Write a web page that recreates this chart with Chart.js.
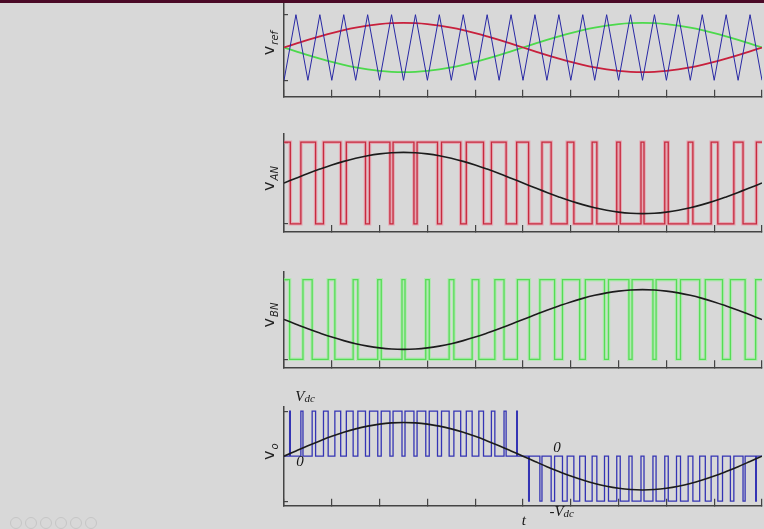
<!DOCTYPE html>
<html>
<head>
<meta charset="utf-8">
<script src="https://cdn.jsdelivr.net/npm/chart.js@4.4.0/dist/chart.umd.min.js"></script>
<style>
body{margin:0;width:764px;height:529px;background:#d8d8d8;overflow:hidden;position:relative}
.topbar{position:absolute;left:0;top:0;width:764px;height:3px;background:#4b0a27;z-index:5}
.box{position:absolute;left:250px;width:514px}
.nav{position:absolute;top:517px;width:10px;height:10px;border:1px solid #c6c6c6;border-radius:50%}
</style>
</head>
<body>
<div class="topbar"></div>
<div class="box" style="top:-10px;height:120px"><canvas id="c1"></canvas></div>
<div class="box" style="top:120px;height:125px"><canvas id="c2"></canvas></div>
<div class="box" style="top:258px;height:122px"><canvas id="c3"></canvas></div>
<div class="box" style="top:385px;height:144px"><canvas id="c4"></canvas></div>
<div class="nav" style="left:10px"></div>
<div class="nav" style="left:25px"></div>
<div class="nav" style="left:40px"></div>
<div class="nav" style="left:55px"></div>
<div class="nav" style="left:70px"></div>
<div class="nav" style="left:85px"></div>
<script>
// time axis in carrier periods (one reference cycle = 20 carrier periods)
var tGrid = [0,0.5,1,1.5,2,2.5,3,3.5,4,4.5,5,5.5,6,6.5,7,7.5,8,8.5,9,9.5,10,
             10.5,11,11.5,12,12.5,13,13.5,14,14.5,15,15.5,16,16.5,17,17.5,18,18.5,19,19.5,20];
var carrier = [-1,1,-1,1,-1,1,-1,1,-1,1,-1,1,-1,1,-1,1,-1,1,-1,1,-1,
               1,-1,1,-1,1,-1,1,-1,1,-1,1,-1,1,-1,1,-1,1,-1,1,-1];
var refSine = [0,0.117,0.232,0.340,0.441,0.530,0.607,0.668,0.713,0.741,0.750,
               0.741,0.713,0.668,0.607,0.530,0.441,0.340,0.232,0.117,0,
               -0.117,-0.232,-0.340,-0.441,-0.530,-0.607,-0.668,-0.713,-0.741,-0.750,
               -0.741,-0.713,-0.668,-0.607,-0.530,-0.441,-0.340,-0.232,-0.117,0];

// switching instants of leg A and leg B (high -> low, low -> high)
var aFall = [0.265,1.322,2.372,3.410,4.432,5.437,6.423,7.393,8.348,9.294,
             10.235,11.178,12.128,13.090,14.068,15.063,16.077,17.108,18.152,19.206];
var aRise = [0.706,1.652,2.608,3.577,4.563,5.568,6.590,7.628,8.678,9.735,
             10.794,11.848,12.893,13.923,14.937,15.932,16.910,17.872,18.822,19.765];
var bFall = [0.235,1.178,2.128,3.090,4.068,5.063,6.077,7.108,8.152,9.206,
             10.265,11.322,12.372,13.410,14.432,15.437,16.423,17.393,18.348,19.294];
var bRise = [0.794,1.848,2.893,3.923,4.937,5.932,6.910,7.872,8.822,9.765,
             10.706,11.652,12.608,13.577,14.563,15.568,16.590,17.628,18.678,19.735];

var xTicks = [0,2,4,6,8,10,12,14,16,18,20];
var yTicks = [-1,1];

// handwritten notes on the v_o panel
var noteText = ['V','0','0','-V','t'];
var noteSub  = ['dc','','','dc',''];
var noteT    = [0.88,0.67,11.42,11.62,10.04];
var noteV    = [1.31,-0.14,0.19,-1.25,-1.45];

function curve(vals, sign){
  return tGrid.map(function(t,i){ return {x:t, y:sign*vals[i]}; });
}
function pwmPoints(falls, rises){
  var pts = [{x:0,y:1}];
  for (var i=0;i<falls.length;i++){
    pts.push({x:falls[i],y:-1});
    pts.push({x:rises[i],y:1});
  }
  pts.push({x:20,y:1});
  return pts;
}
function levelAt(falls, rises, t){
  for (var i=0;i<falls.length;i++){
    if (t>=falls[i] && t<rises[i]) return -1;
  }
  return 1;
}
function outputPoints(){
  var edges = [0].concat(aFall,aRise,bFall,bRise).sort(function(a,b){return a-b;});
  var pts = [];
  edges.forEach(function(t){
    pts.push({x:t, y:(levelAt(aFall,aRise,t)-levelAt(bFall,bRise,t))/2});
  });
  pts.push({x:20, y:pts[pts.length-1].y});
  return pts;
}

var axisLabel = {
  id:'axisLabel',
  afterDraw:function(chart, args, opts){
    var ctx = chart.ctx, a = chart.chartArea;
    var yc = chart.scales.y.getPixelForValue(0) - 4;
    ctx.save();
    ctx.fillStyle = '#222';
    ctx.font = '16px "DejaVu Sans"';
    var w1 = ctx.measureText(opts.main).width;
    ctx.font = 'italic 10px "DejaVu Sans"';
    var w2 = ctx.measureText(opts.sub).width;
    ctx.translate(a.left-10, yc);
    ctx.rotate(-Math.PI/2);
    var x0 = -(w1+w2)/2;
    ctx.font = '16px "DejaVu Sans"';
    ctx.fillText(opts.main, x0, 0);
    ctx.font = 'italic 10px "DejaVu Sans"';
    ctx.fillText(opts.sub, x0+w1+1, 4);
    ctx.restore();
  }
};

var notes = {
  id:'notes',
  afterDraw:function(chart, args, opts){
    if (!opts.show) return;
    var ctx = chart.ctx, sx = chart.scales.x, sy = chart.scales.y;
    ctx.save();
    ctx.fillStyle = '#161616';
    ctx.textBaseline = 'middle';
    for (var i=0;i<noteText.length;i++){
      var px = sx.getPixelForValue(noteT[i]), py = sy.getPixelForValue(noteV[i]);
      ctx.font = 'italic 15px "Liberation Serif"';
      var w1 = ctx.measureText(noteText[i]).width;
      ctx.font = 'italic 11px "Liberation Serif"';
      var w2 = ctx.measureText(noteSub[i]).width;
      var x0 = px-(w1+w2)/2;
      ctx.textAlign = 'left';
      ctx.font = 'italic 15px "Liberation Serif"';
      ctx.fillText(noteText[i], x0, py);
      ctx.font = 'italic 11px "Liberation Serif"';
      ctx.fillText(noteSub[i], x0+w1, py+2);
    }
    ctx.restore();
  }
};

function makePanel(id, datasets, yMin, yMax, pad, main, sub, showNotes){
  return new Chart(id, {
    type:'line',
    data:{datasets:datasets},
    options:{
      responsive:true,
      maintainAspectRatio:false,
      animation:false,
      layout:{padding:pad},
      elements:{point:{radius:0}},
      plugins:{
        legend:{display:false},
        tooltip:{enabled:false},
        axisLabel:{main:main, sub:sub},
        notes:{show:showNotes}
      },
      scales:{
        x:{
          type:'linear', min:0, max:20,
          afterFit:function(s){ s.height = 0; },
          afterBuildTicks:function(s){ s.ticks = xTicks.map(function(v){return {value:v};}); },
          ticks:{display:false},
          grid:{drawOnChartArea:false, tickLength:-7, color:'#444', lineWidth:1.2},
          border:{color:'#444', width:1.5}
        },
        y:{
          min:yMin, max:yMax,
          afterFit:function(s){ s.width = 0; },
          afterBuildTicks:function(s){ s.ticks = yTicks.map(function(v){return {value:v};}); },
          ticks:{display:false},
          grid:{drawOnChartArea:false, tickLength:-4, color:'#444', lineWidth:1.2},
          border:{color:'#444', width:1.5}
        }
      }
    },
    plugins:[axisLabel, notes]
  });
}

makePanel('c1', [
  {data:curve(carrier,1), borderColor:'#2828a4', borderWidth:1, tension:0},
  {data:curve(refSine,1), borderColor:'#c8203c', borderWidth:1.8, tension:0.4},
  {data:curve(refSine,-1), borderColor:'#4cd94c', borderWidth:1.8, tension:0.4}
], -1.5, 1.5, {left:34, right:2, top:8.3, bottom:13.3}, 'v', 'ref', false);

makePanel('c2', [
  {data:curve(refSine,1), borderColor:'#1c1c1c', borderWidth:1.6, tension:0.4},
  {data:pwmPoints(aFall,aRise), borderColor:'#c62a3e', borderWidth:1.3, stepped:true},
  {data:pwmPoints(aFall,aRise), borderColor:'rgba(240,130,150,0.55)', borderWidth:3.5, stepped:true}
], -1.2, 1.2, {left:34, right:2, top:14, bottom:13}, 'v', 'AN', false);

makePanel('c3', [
  {data:curve(refSine,-1), borderColor:'#1c1c1c', borderWidth:1.6, tension:0.4},
  {data:pwmPoints(bFall,bRise), borderColor:'#55dc55', borderWidth:1.3, stepped:true},
  {data:pwmPoints(bFall,bRise), borderColor:'rgba(150,245,150,0.55)', borderWidth:3.5, stepped:true}
], -1.2, 1.2, {left:34, right:2, top:13.7, bottom:12.7}, 'v', 'BN', false);

makePanel('c4', [
  {data:curve(refSine,1), borderColor:'#1c1c1c', borderWidth:1.6, tension:0.4},
  {data:outputPoints(), borderColor:'#3434b4', borderWidth:1.3, stepped:true}
], -1.1, 1.1, {left:34, right:2, top:21.7, bottom:23.3}, 'v', 'o', true);
</script>
</body>
</html>
